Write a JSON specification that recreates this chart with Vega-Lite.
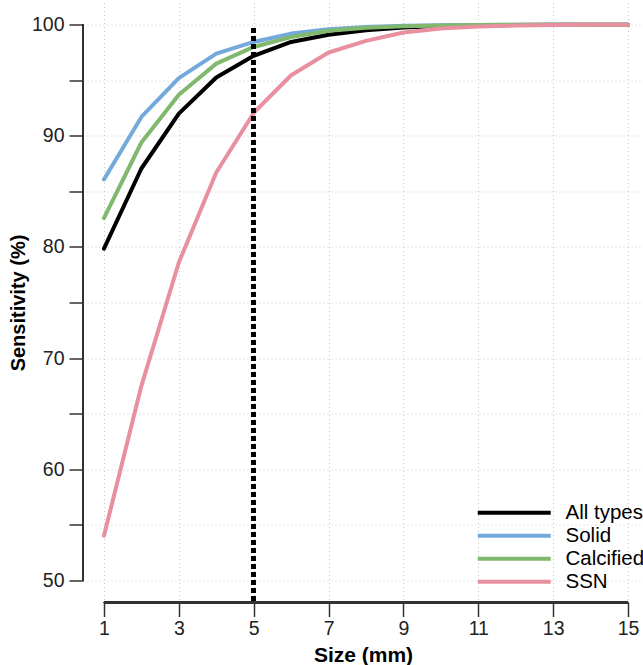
{
  "$schema": "https://vega.github.io/schema/vega-lite/v6.json",
  "width": 560,
  "height": 600,
  "autosize": {"type": "none"},
  "padding": {"left": 83, "top": 2.5, "right": 0, "bottom": 62.5},
  "config": {
    "view": {"stroke": null},
    "font": "Liberation Sans",
    "axis": {"labelFont": "Liberation Sans", "titleFont": "Liberation Sans"}
  },
  "data": {
    "values": [
      {"type": "All types", "size": 1, "sens": 79.85},
      {"type": "All types", "size": 2, "sens": 87.06},
      {"type": "All types", "size": 3, "sens": 92.0},
      {"type": "All types", "size": 4, "sens": 95.25},
      {"type": "All types", "size": 5, "sens": 97.2},
      {"type": "All types", "size": 6, "sens": 98.45},
      {"type": "All types", "size": 7, "sens": 99.1},
      {"type": "All types", "size": 8, "sens": 99.5},
      {"type": "All types", "size": 9, "sens": 99.75},
      {"type": "All types", "size": 10, "sens": 99.88},
      {"type": "All types", "size": 11, "sens": 99.95},
      {"type": "All types", "size": 12, "sens": 99.98},
      {"type": "All types", "size": 13, "sens": 99.99},
      {"type": "All types", "size": 14, "sens": 100},
      {"type": "All types", "size": 15, "sens": 100},
      {"type": "Solid", "size": 1, "sens": 86.07},
      {"type": "Solid", "size": 2, "sens": 91.7},
      {"type": "Solid", "size": 3, "sens": 95.2},
      {"type": "Solid", "size": 4, "sens": 97.4},
      {"type": "Solid", "size": 5, "sens": 98.45},
      {"type": "Solid", "size": 6, "sens": 99.2},
      {"type": "Solid", "size": 7, "sens": 99.6},
      {"type": "Solid", "size": 8, "sens": 99.8},
      {"type": "Solid", "size": 9, "sens": 99.9},
      {"type": "Solid", "size": 10, "sens": 99.95},
      {"type": "Solid", "size": 11, "sens": 99.98},
      {"type": "Solid", "size": 12, "sens": 99.99},
      {"type": "Solid", "size": 13, "sens": 100},
      {"type": "Solid", "size": 14, "sens": 100},
      {"type": "Solid", "size": 15, "sens": 100},
      {"type": "Calcified", "size": 1, "sens": 82.6},
      {"type": "Calcified", "size": 2, "sens": 89.4},
      {"type": "Calcified", "size": 3, "sens": 93.7},
      {"type": "Calcified", "size": 4, "sens": 96.5},
      {"type": "Calcified", "size": 5, "sens": 98.0},
      {"type": "Calcified", "size": 6, "sens": 98.9},
      {"type": "Calcified", "size": 7, "sens": 99.45},
      {"type": "Calcified", "size": 8, "sens": 99.72},
      {"type": "Calcified", "size": 9, "sens": 99.86},
      {"type": "Calcified", "size": 10, "sens": 99.93},
      {"type": "Calcified", "size": 11, "sens": 99.97},
      {"type": "Calcified", "size": 12, "sens": 99.99},
      {"type": "Calcified", "size": 13, "sens": 100},
      {"type": "Calcified", "size": 14, "sens": 100},
      {"type": "Calcified", "size": 15, "sens": 100},
      {"type": "SSN", "size": 1, "sens": 54.0},
      {"type": "SSN", "size": 2, "sens": 67.5},
      {"type": "SSN", "size": 3, "sens": 78.6},
      {"type": "SSN", "size": 4, "sens": 86.7},
      {"type": "SSN", "size": 5, "sens": 92.06},
      {"type": "SSN", "size": 6, "sens": 95.45},
      {"type": "SSN", "size": 7, "sens": 97.5},
      {"type": "SSN", "size": 8, "sens": 98.55},
      {"type": "SSN", "size": 9, "sens": 99.3},
      {"type": "SSN", "size": 10, "sens": 99.65},
      {"type": "SSN", "size": 11, "sens": 99.84},
      {"type": "SSN", "size": 12, "sens": 99.93},
      {"type": "SSN", "size": 13, "sens": 99.97},
      {"type": "SSN", "size": 14, "sens": 100},
      {"type": "SSN", "size": 15, "sens": 100}
    ]
  },
  "layer": [
    {
      "mark": {"type": "line", "strokeWidth": 4, "strokeCap": "round", "strokeJoin": "round"},
      "encoding": {
        "x": {
          "field": "size", "type": "quantitative",
          "scale": {"domain": [0.44, 15.4], "nice": false, "zero": false},
          "axis": {
            "title": "Size (mm)", "titleFontSize": 21, "titleFontWeight": "bold", "titleColor": "#000", "titlePadding": 6,
            "values": [1,2,3,4,5,6,7,8,9,10,11,12,13,14,15],
            "labelExpr": "datum.value % 2 == 1 ? datum.label : ''",
            "labelFontSize": 19.5, "labelColor": "#222", "labelPadding": 3,
            "domain": false, "tickSize": 14, "tickColor": "#333", "tickWidth": 1.5,
            "grid": true, "gridDash": [1, 3], "gridColor": "#c8c8c8", "gridWidth": 1
          }
        },
        "y": {
          "field": "sens", "type": "quantitative",
          "scale": {"domain": [48, 102], "nice": false, "zero": false},
          "axis": {
            "title": "Sensitivity (%)", "titleFontSize": 20, "titleFontWeight": "bold", "titleColor": "#000", "titlePadding": 3,
            "values": [50,55,60,65,70,75,80,85,90,95,100],
            "labelExpr": "datum.value % 10 == 0 ? datum.label : ''",
            "labelFontSize": 19.5, "labelColor": "#222", "labelPadding": 5,
            "domain": false, "tickSize": 14, "tickColor": "#333", "tickWidth": 1.5,
            "grid": true, "gridDash": [1, 3], "gridColor": "#c8c8c8", "gridWidth": 1
          }
        },
        "color": {
          "field": "type", "type": "nominal",
          "scale": {
            "domain": ["All types", "Solid", "Calcified", "SSN"],
            "range": ["#000000", "#74a9db", "#80b96d", "#e8909f"]
          },
          "legend": {
            "title": null, "orient": "none", "legendX": 421, "legendY": 500,
            "symbolType": "M-5,0H5", "symbolSize": 213, "symbolStrokeWidth": 4,
            "labelFontSize": 20.5, "labelColor": "#000", "labelOffset": 41, "padding": 0, "rowPadding": 2
          }
        }
      }
    },
    {
      "mark": {"type": "rule", "stroke": "#333", "strokeWidth": 1.5},
      "encoding": {"x": {"datum": 1}, "x2": {"datum": 15}, "y": {"datum": 48}}
    },
    {
      "mark": {"type": "rule", "stroke": "#333", "strokeWidth": 1.5},
      "encoding": {"x": {"datum": 0.44}, "y": {"datum": 50}, "y2": {"datum": 100}}
    },
    {
      "mark": {"type": "rule", "stroke": "#000", "strokeWidth": 4, "strokeDash": [4, 4]},
      "encoding": {"x": {"datum": 5}, "y": {"datum": 48.2}, "y2": {"datum": 100}}
    }
  ]
}
